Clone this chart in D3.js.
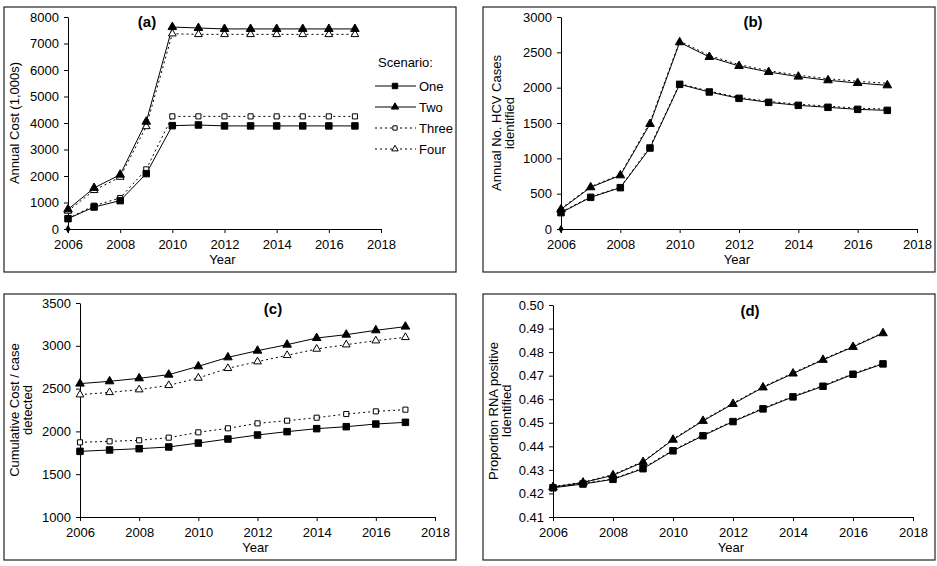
<!DOCTYPE html>
<html><head><meta charset="utf-8">
<script src="https://cdn.jsdelivr.net/npm/d3@7"></script>
<style>
body{margin:0;background:#fff}
svg{display:block}
text{font-family:"Liberation Sans",Arial,Helvetica,sans-serif;fill:#000}
</style>
</head><body>
<svg id="chart" width="937" height="566"></svg>
<script>
// ---------- data ----------
const years = [2006,2007,2008,2009,2010,2011,2012,2013,2014,2015,2016,2017];
const xTicks = [2006,2008,2010,2012,2014,2016,2018];
const scenarios = ["One","Two","Three","Four"];

// (a) Annual Cost (1,000s)
const costOne   = [390, 830, 1070, 2090, 3900, 3925, 3890, 3890, 3890, 3890, 3890, 3890];
const costTwo   = [740, 1550, 2050, 4050, 7620, 7585, 7550, 7550, 7550, 7550, 7550, 7550];
const costThree = [400, 880, 1170, 2250, 4250, 4250, 4250, 4250, 4250, 4250, 4250, 4250];
const costFour  = [680, 1460, 1960, 3870, 7370, 7345, 7345, 7345, 7345, 7345, 7345, 7345];
const costTicks = [0,1000,2000,3000,4000,5000,6000,7000,8000];

// (b) Annual No. HCV cases identified
const casesOne   = [231, 448, 585, 1146, 2047, 1939, 1849, 1792, 1750, 1722, 1693, 1679];
const casesTwo   = [278, 590, 759, 1486, 2642, 2434, 2307, 2222, 2156, 2104, 2066, 2033];
const casesThree = [240, 455, 592, 1165, 2058, 1950, 1862, 1806, 1766, 1738, 1710, 1696];
const casesFour  = [290, 600, 770, 1510, 2660, 2455, 2326, 2240, 2176, 2126, 2090, 2062];
const casesTicks = [0,500,1000,1500,2000,2500,3000];

// (c) Cumulative cost / case detected
const cumOne   = [1767, 1783, 1798, 1818, 1864, 1911, 1958, 1997, 2032, 2055, 2086, 2106];
const cumTwo   = [2558, 2585, 2620, 2663, 2760, 2865, 2943, 3013, 3091, 3130, 3181, 3224];
const cumThree = [1872, 1884, 1896, 1927, 1989, 2036, 2094, 2125, 2160, 2203, 2234, 2254];
const cumFour  = [2429, 2456, 2488, 2538, 2624, 2737, 2815, 2889, 2963, 3013, 3060, 3099];
const cumTicks = [1000,1500,2000,2500,3000,3500];

// (d) Proportion RNA positive identified
const propOne   = [0.4224, 0.4240, 0.4260, 0.4305, 0.4381, 0.4445, 0.4505, 0.4559, 0.4610, 0.4655, 0.4706, 0.4750];
const propTwo   = [0.4227, 0.4246, 0.4277, 0.4333, 0.4428, 0.4508, 0.4580, 0.4650, 0.4709, 0.4767, 0.4822, 0.4880];
const propThree = [0.4226, 0.4242, 0.4262, 0.4308, 0.4384, 0.4448, 0.4508, 0.4562, 0.4613, 0.4658, 0.4709, 0.4753];
const propFour  = [0.4229, 0.4248, 0.4280, 0.4336, 0.4431, 0.4511, 0.4583, 0.4653, 0.4712, 0.4770, 0.4825, 0.4883];
const propTicks = [0.41,0.42,0.43,0.44,0.45,0.46,0.47,0.48,0.49,0.50];

// origin marker (2006, 0) shown in panels (a) and (b)
const originPoint = [[2006, 0]];

// ---------- styles ----------
const styleOf = {
  One:   {dash: null,   marker: d3.symbolSquare,   size: 42, fill: "#000"},
  Two:   {dash: null,   marker: d3.symbolTriangle, size: 32, fill: "#000"},
  Three: {dash: "2,3",  marker: d3.symbolSquare,   size: 26, fill: "#fff"},
  Four:  {dash: "2,3",  marker: d3.symbolTriangle, size: 26, fill: "#fff"}
};

const svg = d3.select("#chart");

function drawPanel(p) {
  const g = svg.append("g");
  g.append("rect")
    .attr("x", p.frame[0]).attr("y", p.frame[1])
    .attr("width", p.frame[2]-p.frame[0]).attr("height", p.frame[3]-p.frame[1])
    .attr("fill", "none").attr("stroke", "#222").attr("stroke-width", 1.2);

  const x = d3.scaleLinear().domain([2006, 2018]).range([p.plot[0], p.plot[1]]);
  const y = d3.scaleLinear().domain(p.yDomain).range([p.plot[3], p.plot[2]]);

  const xa = g.append("g").attr("transform", `translate(0,${p.plot[3]})`)
    .call(d3.axisBottom(x).tickValues(xTicks).tickFormat(d3.format("d"))
      .tickSize(4).tickSizeOuter(0).tickPadding(7));
  const ya = g.append("g").attr("transform", `translate(${p.plot[0]},0)`)
    .call(d3.axisLeft(y).tickValues(p.yTicks).tickFormat(p.yFormat)
      .tickSize(4).tickSizeOuter(0).tickPadding(5));
  [xa, ya].forEach(a => {
    a.selectAll("path,line").attr("stroke", "#000").attr("stroke-width", 1);
    a.selectAll("text").style("font-size", "13px").attr("fill", "#000")
      .style("font-family", '"Liberation Sans",Arial,sans-serif');
  });

  // x-axis title
  g.append("text").attr("x", (p.plot[0]+p.plot[1])/2 - 2).attr("y", p.plot[3]+35)
    .attr("text-anchor", "middle").style("font-size", "13px").text("Year");

  // y-axis title (one or two lines)
  const cy = (p.plot[2]+p.plot[3])/2;
  p.yTitle.forEach((t, i) => {
    g.append("text")
      .attr("transform", `translate(${p.yTitleX + i*13},${cy}) rotate(-90)`)
      .attr("text-anchor", "middle").style("font-size", "13px").text(t);
  });

  // panel label
  g.append("text").attr("x", p.label[0]).attr("y", p.label[1])
    .attr("text-anchor", "middle").style("font-size", "15px").style("font-weight", "bold")
    .text(p.name);

  const line = d3.line().x((d, i) => x(years[i])).y(d => y(d));

  // draw dotted (Three, Four) first so solid markers sit on top
  const order = ["Three", "Four", "One", "Two"];
  order.forEach(s => {
    const vals = p.series[s];
    const st = styleOf[s];
    g.append("path").datum(vals).attr("d", line)
      .attr("fill", "none").attr("stroke", "#000").attr("stroke-width", 1)
      .attr("stroke-dasharray", st.dash);
  });
  order.forEach(s => {
    if (!p.markers[s]) return;
    const vals = p.series[s];
    const st = styleOf[s];
    g.selectAll(null).data(vals).enter().append("path")
      .attr("d", d3.symbol().type(st.marker).size(st.size))
      .attr("transform", (d, i) => `translate(${x(years[i])},${y(d)})`)
      .attr("fill", st.fill).attr("stroke", "#000").attr("stroke-width", 1);
  });

  if (p.origin) {
    g.selectAll(null).data(originPoint).enter().append("path")
      .attr("d", d3.symbol().type(d3.symbolDiamond).size(22))
      .attr("transform", d => `translate(${x(d[0])},${y(d[1])})`)
      .attr("fill", "#000");
  }
  return {g, x, y};
}

drawPanel({
  name: "(a)", frame: [4, 7, 456, 272], plot: [68, 381, 17, 229],
  yDomain: [0, 8000], yTicks: costTicks, yFormat: d3.format("d"),
  yTitle: ["Annual Cost (1,000s)"], yTitleX: 19, label: [147, 27],
  series: {One: costOne, Two: costTwo, Three: costThree, Four: costFour},
  markers: {One: true, Two: true, Three: true, Four: true}, origin: true
});
drawPanel({
  name: "(b)", frame: [483, 7, 935, 272], plot: [561, 917, 17, 229],
  yDomain: [0, 3000], yTicks: casesTicks, yFormat: d3.format("d"),
  yTitle: ["Annual No. HCV Cases", "identified"], yTitleX: 501, label: [753, 27],
  series: {One: casesOne, Two: casesTwo, Three: casesThree, Four: casesFour},
  markers: {One: true, Two: true, Three: false, Four: false}, origin: true
});
drawPanel({
  name: "(c)", frame: [4, 294, 456, 560], plot: [80, 435, 303, 517],
  yDomain: [1000, 3500], yTicks: cumTicks, yFormat: d3.format("d"),
  yTitle: ["Cumulative Cost / case", "detected"], yTitleX: 19, label: [273, 314],
  series: {One: cumOne, Two: cumTwo, Three: cumThree, Four: cumFour},
  markers: {One: true, Two: true, Three: true, Four: true}, origin: false
});
drawPanel({
  name: "(d)", frame: [483, 294, 935, 560], plot: [553, 913, 305, 517],
  yDomain: [0.41, 0.50], yTicks: propTicks, yFormat: d3.format(".2f"),
  yTitle: ["Proportion RNA positive", "Identified"], yTitleX: 498, label: [750, 316],
  series: {One: propOne, Two: propTwo, Three: propThree, Four: propFour},
  markers: {One: true, Two: true, Three: false, Four: false}, origin: false
});

// legend in panel (a)
const leg = svg.append("g");
leg.append("text").attr("x", 378).attr("y", 67).style("font-size", "13px").text("Scenario:");
const legY = [86, 107, 128, 149];
scenarios.forEach((s, i) => {
  const st = styleOf[s];
  const yy = legY[i];
  leg.append("line").attr("x1", 375).attr("x2", 416).attr("y1", yy).attr("y2", yy)
    .attr("stroke", "#000").attr("stroke-width", 1).attr("stroke-dasharray", st.dash);
  leg.append("path").attr("d", d3.symbol().type(st.marker).size(st.size * 0.7))
    .attr("transform", `translate(395,${yy})`)
    .attr("fill", st.fill).attr("stroke", "#000").attr("stroke-width", 1);
  leg.append("text").attr("x", 419).attr("y", yy + 5).style("font-size", "13px").text(s);
});
</script>
</body></html>
